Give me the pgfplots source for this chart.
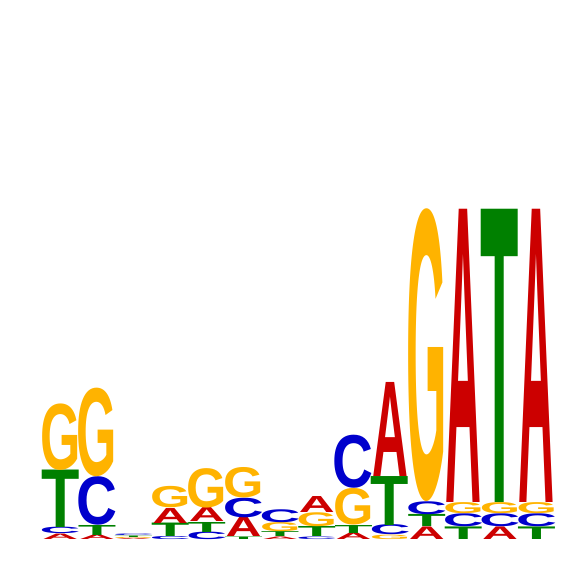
\documentclass[border=0pt]{standalone}
\usepackage{fontspec}
\setmainfont{Liberation Sans}
\usepackage{graphicx}
\usepackage{pgfplots}
\usepackage{pgfplotstable}
\pgfplotsset{compat=1.18}

% MEME nucleotide colours
\definecolor{lA}{HTML}{CC0000}
\definecolor{lC}{HTML}{0000CC}
\definecolor{lG}{HTML}{FFB300}
\definecolor{lT}{HTML}{008000}

% glyphs with side bearings trimmed off
\newcommand\gA{\kern-0.002em A\kern-0.004em}
\newcommand\gC{\kern-0.049em C\kern-0.044em}
\newcommand\gG{\kern-0.045em G\kern-0.047em}
\newcommand\gT{\kern-0.022em T\kern-0.022em}

% one row per letter: position, letter, bottom (bits), height (bits)
\pgfplotstableread{
pos ch bot h
1 A 0 .032
1 C .032 .038
1 T .070 .338
1 G .408 .391
2 A 0 .026
2 T .026 .059
2 C .085 .285
2 G .370 .521
3 A 0 .007
3 G .007 .007
3 T .014 .009
3 C .023 .009
4 C 0 .018
4 T .018 .079
4 A .097 .088
4 G .185 .126
5 C 0 .044
5 T .044 .059
5 A .103 .082
5 G .185 .232
6 T 0 .015
6 A .015 .112
6 C .127 .115
6 G .242 .179
7 A 0 .015
7 T .015 .029
7 G .044 .053
7 C .097 .076
8 C 0 .015
8 T .015 .059
8 G .074 .082
8 A .156 .094
9 A 0 .038
9 T .038 .047
9 G .085 .215
9 C .300 .312
10 G 0 .026
10 C .026 .059
10 T .085 .288
10 A .373 .553
11 A 0 .074
11 T .074 .071
11 C .145 .076
11 G .221 1.718
12 T 0 .074
12 C .074 .076
12 G .150 .065
12 A .215 1.724
13 A 0 .074
13 C .074 .076
13 G .150 .065
13 T .215 1.724
14 T 0 .074
14 C .074 .076
14 G .150 .065
14 A .215 1.724
}\logo

\begin{document}
\begin{tikzpicture}
\path[use as bounding box] (0,0) rectangle (566pt,566pt);
\begin{axis}[
    at={(42pt,26.5pt)}, anchor=south west,
    scale only axis,
    width=513pt, height=340pt,
    xmin=0.5, xmax=14.5, ymin=0, ymax=2,
    axis lines=none,
    clip=false,
    ]
    \addplot[draw=none, mark=none,
        point meta=explicit symbolic,
        visualization depends on={170*\thisrow{h} \as \hgt},
        nodes near coords={%
            \pgfmathsetlengthmacro\hh{\hgt*1pt}%
            \color{l\pgfplotspointmeta}%
            \resizebox*{35.6pt}{\hh}{\bfseries\csname g\pgfplotspointmeta\endcsname}},
        every node near coord/.append style={anchor=south, inner sep=0pt, outer sep=0pt},
        ] table[x=pos, y=bot, meta=ch] {\logo};
\end{axis}
\end{tikzpicture}
\end{document}
